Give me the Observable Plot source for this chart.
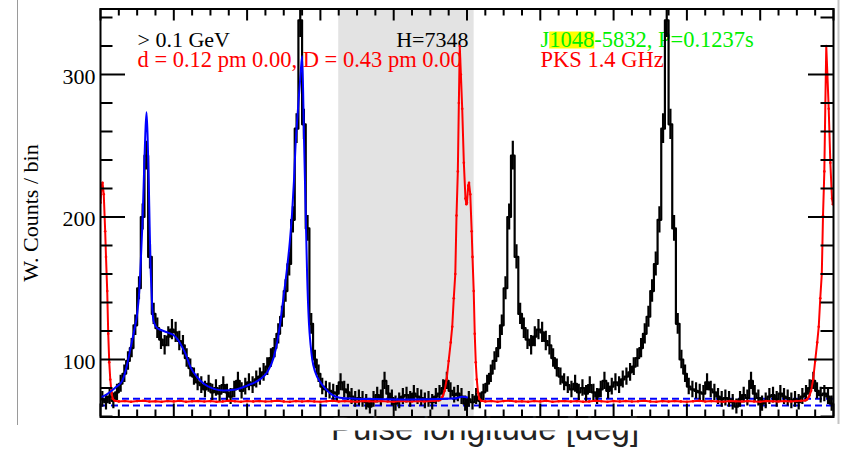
<!DOCTYPE html>
<html>
<head>
<meta charset="utf-8">
<script src="https://cdn.jsdelivr.net/npm/d3@7"></script>
<script src="https://cdn.jsdelivr.net/npm/@observablehq/plot@0.6"></script>
<style>
  html, body { margin: 0; padding: 0; background: #fff; }
  #chart { width: 846px; height: 449px; overflow: hidden; }
  #chart svg { display: block; }
</style>
</head>
<body>
<div id="chart"></div>
<script>
// Gamma-ray light curve of PSR J1048-5832 (> 0.1 GeV), 100 phase bins per rotation,
// shown over two rotations, with the 1.4 GHz Parkes radio profile and the pulse fit.

const binWidth = 3.6;          // degrees of pulse longitude per bin
const rotations = [0, 360];    // the light curve is drawn twice

// weighted counts per bin (one rotation)
const counts = [
  72, 70, 74, 71, 77, 83, 90, 99, 108, 124,
  150, 200, 243, 172, 132, 122, 114, 110, 116, 121,
  119, 113, 110, 101, 94, 88, 84, 82, 79, 83,
  77, 80, 76, 82, 77, 74, 79, 85, 78, 81,
  84, 82, 86, 88, 91, 95, 101, 108, 118, 130,
  148, 167, 198, 262, 338, 265, 192, 125, 100, 90,
  81, 79, 78, 77, 76, 84, 79, 77, 74, 72,
  73, 72, 70, 67, 72, 75, 73, 85, 76, 73,
  69, 71, 74, 75, 72, 76, 74, 73, 71, 72,
  70, 74, 76, 80, 85, 78, 75, 76, 74, 69
];

// uncertainty of each bin
const countErrors = [
  5.5, 5.4, 5.6, 5.5, 5.7, 5.9, 6.2, 6.5, 6.8, 7.2,
  8.0, 9.2, 10.1, 8.5, 7.5, 7.2, 6.9, 6.8, 7.0, 7.1,
  7.1, 6.9, 6.8, 6.5, 6.3, 6.1, 6.0, 5.9, 5.8, 5.9,
  5.7, 5.8, 5.7, 5.9, 5.7, 5.6, 5.8, 6.0, 5.7, 5.9,
  6.0, 5.9, 6.0, 6.1, 6.2, 6.3, 6.5, 6.8, 7.1, 7.4,
  7.9, 8.4, 9.2, 10.5, 12.0, 10.6, 9.0, 7.3, 6.5, 6.2,
  5.8, 5.8, 5.7, 5.7, 5.7, 6.0, 5.8, 5.7, 5.6, 5.5,
  5.6, 5.5, 5.4, 5.3, 5.5, 5.6, 5.6, 6.0, 5.7, 5.6,
  5.4, 5.5, 5.6, 5.6, 5.5, 5.7, 5.6, 5.6, 5.5, 5.5,
  5.4, 5.6, 5.7, 5.8, 6.0, 5.7, 5.6, 5.7, 5.6, 5.4
];

// radio profile (scaled to the count axis), one rotation
const radioLon = [
  0, 1.2, 2.0, 3.2, 4.6, 5.4, 6.6, 7.6, 8.6, 9.6,
  10.8, 12, 14, 18, 24, 30, 36, 42, 48, 54,
  60, 66, 72, 78, 84, 90, 96, 102, 108, 114,
  120, 126, 132, 138, 144, 150, 156, 162, 168, 174,
  180, 186, 192, 198, 204, 210, 216, 222, 228, 234,
  240, 246, 252, 258, 264, 270, 276, 282, 288, 294,
  300, 306, 312, 318, 324, 328, 332, 334, 336, 338,
  340, 342, 344, 345.5, 347, 348.5, 349.7, 351, 352, 352.9,
  354, 355.3, 356.9, 358.5, 359.4
];
const radioFlux = [
  210, 222, 224, 216, 190, 172, 148, 118, 98, 86,
  77, 72.5, 71, 70.6, 70.9, 70.4, 70.8, 71.1, 70.5, 70.7,
  70.3, 70.9, 70.6, 71.0, 70.4, 70.7, 70.9, 70.5, 70.8, 70.3,
  70.6, 71.0, 70.7, 70.4, 70.8, 70.6, 70.9, 70.5, 70.7, 71.1,
  70.6, 70.4, 70.8, 70.5, 70.9, 70.6, 70.3, 70.7, 71.0, 70.5,
  70.8, 70.6, 70.4, 70.9, 70.7, 70.5, 70.8, 70.6, 70.4, 70.9,
  70.7, 70.5, 70.8, 70.6, 70.9, 71.0, 71.2, 72, 74, 78,
  86, 99, 112, 123, 143, 160, 201, 232, 280, 320,
  300, 276, 238, 213, 209
];

// two-peak fit to the light curve, first rotation only
const fitLon = [
  0, 5, 10, 15, 21.3, 25, 29.5, 33, 36, 38,
  39.3, 41, 42.5, 44, 45.2, 46.3, 47.4, 48.3, 49.1, 50,
  50.8, 52.1, 55.7, 60, 65.5, 72, 76.9, 80.3, 83.5, 88.4,
  95, 101.5, 111.3, 121.1, 130.9, 144.1, 157.2, 163.7, 170.2, 173.5,
  176.8, 180, 183.4, 186, 188.3, 190, 191.5, 193.2, 194.8, 196.5,
  198.1, 199.9, 201.5, 203, 204.7, 206.4, 208, 211, 216, 221,
  228, 235, 250, 270, 300, 320, 340, 350, 355, 360
];
const fitCounts = [
  73.5, 75, 77.5, 80.5, 85, 93, 108, 120, 132, 147,
  165, 192, 225, 258, 273.5, 256, 225, 193, 167, 150,
  137, 127, 122, 120.5, 119, 117, 113, 108.6, 104, 94.6,
  87.6, 83, 79.4, 78.2, 78.7, 81.7, 86.4, 91, 101.6, 112,
  127, 145, 165, 183, 204, 225, 249, 268, 284, 300,
  313, 255, 205, 158, 126, 110, 100, 91, 84, 79.4,
  75, 73.2, 72.5, 72.2, 72, 72.1, 72.4, 73, 73.8, 73.5
];

// background level band (dashed) and off-pulse window
const backgroundLevels = [72.4, 67.7];
const offPulseWindow = [234, 367];

// axis ticks
const xMajorTicks = [0, 72, 144, 216, 288, 360, 432, 504, 576, 648, 720];
const xMinorTicks = [18, 36, 54, 90, 108, 126, 162, 180, 198, 234, 252, 270, 306, 324, 342,
  378, 396, 414, 450, 468, 486, 522, 540, 558, 594, 612, 630, 666, 684, 702];
const yMajorTicks = [100, 200, 300];
const yMinorTicks = [60, 80, 120, 140, 160, 180, 220, 240, 260, 280, 320, 340];

// annotation text
const energyLabel = "> 0.1 GeV";
const widthLabel = "d = 0.12 pm 0.00, D = 0.43 pm 0.00";
const htestLabel = "H=7348";
const pulsarLabel = "J1048-5832, P=0.1237s";
const radioLabel = "PKS 1.4 GHz";
const yLabel = "W. Counts / bin";
const xLabel = "Pulse longitude [deg]";

// derived tables
const histSteps = rotations.flatMap(r => counts.flatMap((v, i) => [
  {lon: r + i * binWidth, v},
  {lon: r + (i + 1) * binWidth, v}
]));
const histErrors = rotations.flatMap(r => counts.map((v, i) => ({
  lon: r + (i + 0.5) * binWidth, lo: v - countErrors[i], hi: v + countErrors[i]
})));
const radio = rotations.flatMap(r => radioLon.map((lon, i) => ({lon: r + lon, v: radioFlux[i]})))
  .concat([{lon: 720, v: radioFlux[0]}]);
const fit = fitLon.map((lon, i) => ({lon, v: fitCounts[i]}));

const W = 846, H = 449;
const mT = 8.5, mB = 32.5, mL = 100, mR = 13;
const innerW = W - mL - mR, innerH = H - mT - mB;

const serif = "'Liberation Serif', 'Times New Roman', serif";
const RED = "#ff0000", BLUE = "#0000ff", GREEN = "#00f000";

const plot = Plot.plot({
  width: W, height: H,
  marginTop: mT, marginBottom: mB, marginLeft: mL, marginRight: mR,
  style: {background: "#fff", overflow: "visible"},
  x: {domain: [0, 720], axis: null},
  y: {domain: [59.65, 345.96], axis: null},
  marks: [
    Plot.rect([offPulseWindow], {x1: d => d[0], x2: d => d[1], fill: "#e3e3e3"}),

    Plot.text([energyLabel], {frameAnchor: "top-left", dx: 37, dy: 38, lineAnchor: "bottom",
      textAnchor: "start", fontFamily: serif, fontSize: 22, fill: "#000"}),
    Plot.text([widthLabel], {frameAnchor: "top-left", dx: 37, dy: 58, lineAnchor: "bottom",
      textAnchor: "start", fontFamily: serif, fontSize: 22.5, fill: RED}),
    Plot.text([htestLabel], {frameAnchor: "top-left", dx: 368, dy: 38, lineAnchor: "bottom",
      textAnchor: "end", fontFamily: serif, fontSize: 22, fill: "#000"}),
    Plot.text([pulsarLabel], {frameAnchor: "top-left", dx: 440, dy: 38, lineAnchor: "bottom",
      textAnchor: "start", fontFamily: serif, fontSize: 22.5, fill: GREEN}),
    Plot.text([radioLabel], {frameAnchor: "top-left", dx: 440, dy: 58, lineAnchor: "bottom",
      textAnchor: "start", fontFamily: serif, fontSize: 22.5, fill: RED}),

    Plot.ruleY(backgroundLevels, {stroke: BLUE, strokeWidth: 2, strokeDasharray: "7,4"}),

    Plot.line(histSteps, {x: "lon", y: "v", stroke: "#000", strokeWidth: 2.2, clip: true}),
    Plot.ruleX(histErrors, {x: "lon", y1: "lo", y2: "hi", stroke: "#000", strokeWidth: 2.2, clip: true}),

    Plot.line(radio, {x: "lon", y: "v", stroke: RED, strokeWidth: 2, clip: true}),
    Plot.dot(radio, {x: "lon", y: "v", r: 1.3, fill: RED, stroke: null, clip: true}),

    Plot.line(fit, {x: "lon", y: "v", stroke: BLUE, strokeWidth: 2, curve: "monotone-x", clip: true}),

    // inward ticks on all four sides
    Plot.tickX(xMajorTicks, {x: d => d, insetTop: innerH - 13, stroke: "#000", strokeWidth: 2}),
    Plot.tickX(xMinorTicks, {x: d => d, insetTop: innerH - 7, stroke: "#000", strokeWidth: 2}),
    Plot.tickX(xMajorTicks, {x: d => d, insetBottom: innerH - 12, stroke: "#000", strokeWidth: 2}),
    Plot.tickX(xMinorTicks, {x: d => d, insetBottom: innerH - 7, stroke: "#000", strokeWidth: 2}),
    Plot.tickY(yMajorTicks, {y: d => d, insetRight: innerW - 25, stroke: "#000", strokeWidth: 2}),
    Plot.tickY(yMinorTicks, {y: d => d, insetRight: innerW - 12.5, stroke: "#000", strokeWidth: 2}),
    Plot.tickY(yMajorTicks, {y: d => d, insetLeft: innerW - 25, stroke: "#000", strokeWidth: 2}),
    Plot.tickY(yMinorTicks, {y: d => d, insetLeft: innerW - 12.5, stroke: "#000", strokeWidth: 2}),
    Plot.frame({stroke: "#000", strokeWidth: 2}),

    Plot.text(yMajorTicks, {y: d => d, text: d => String(d), frameAnchor: "left", dx: -5, dy: 2,
      textAnchor: "end", fontFamily: serif, fontSize: 22, fill: "#000"}),
    Plot.text([yLabel], {frameAnchor: "left", dx: -70, rotate: -90, lineAnchor: "middle",
      textAnchor: "middle", fontFamily: serif, fontSize: 22, fill: "#000"}),

    Plot.text([xLabel], {frameAnchor: "bottom", dx: 18, dy: 22.5, lineAnchor: "bottom",
      textAnchor: "middle", fontFamily: "'Liberation Sans', Arial, sans-serif", fontSize: 33, fill: "#222"})
  ]
});

document.getElementById("chart").appendChild(plot);

// yellow highlight behind "1048" in the pulsar name
const svg = d3.select(plot);
const nameText = svg.selectAll("text").filter(function () { return this.textContent === pulsarLabel; }).node();
if (nameText) {
  const start = nameText.getStartPositionOfChar(1);
  const len = nameText.getSubStringLength(1, 4);
  const hl = document.createElementNS("http://www.w3.org/2000/svg", "rect");
  hl.setAttribute("x", start.x);
  hl.setAttribute("y", start.y - 15.5);
  hl.setAttribute("width", len);
  hl.setAttribute("height", 17);
  hl.setAttribute("fill", "#ffff00");
  const t = nameText.getAttribute("transform");
  if (t) hl.setAttribute("transform", t);
  nameText.parentNode.insertBefore(hl, nameText);
}

// page band below the axis and the page edges
svg.append("rect").attr("x", 0).attr("y", H - mB + 1.5).attr("width", W).attr("height", 12.5).attr("fill", "#fff");
svg.append("line").attr("x1", 17.5).attr("x2", 17.5).attr("y1", 0).attr("y2", 425)
  .attr("stroke", "#9a9a9a").attr("stroke-width", 1);
svg.append("line").attr("x1", 838.5).attr("x2", 838.5).attr("y1", 0).attr("y2", 424)
  .attr("stroke", "#c4c4c4").attr("stroke-width", 2);
</script>
</body>
</html>
